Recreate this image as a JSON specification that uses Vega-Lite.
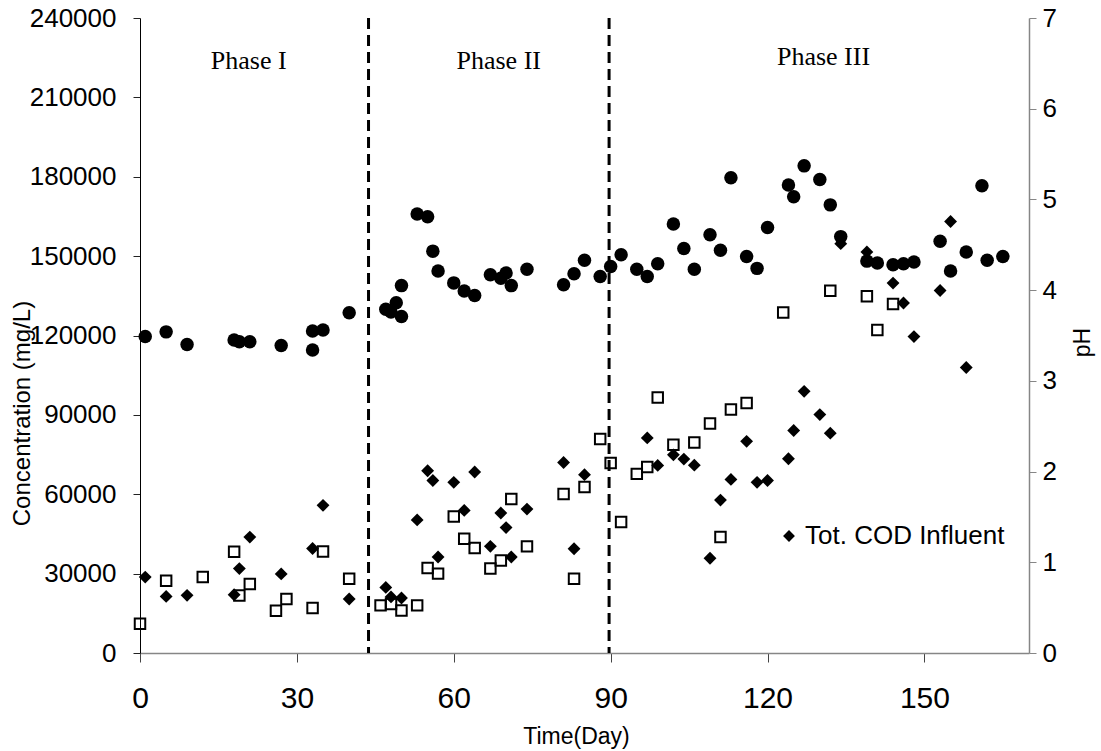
{
  "$schema": "https://vega.github.io/schema/vega-lite/v6.json",
  "width": 889,
  "height": 635,
  "autosize": {"type": "none"},
  "padding": {"left": 140, "top": 18, "right": 72, "bottom": 98},
  "background": "white",
  "config": {
    "view": {"stroke": null},
    "axis": {"grid": false, "labelFont": "Liberation Sans", "titleFont": "Liberation Sans", "labelColor": "black", "titleColor": "black", "titleFontWeight": "normal", "labelFlush": false, "labelOverlap": false}
  },
  "datasets": {
    "influent": [
      {"day": 1, "conc": 28700}, {"day": 5, "conc": 21400}, {"day": 9, "conc": 21800}, {"day": 18, "conc": 22000},
      {"day": 19, "conc": 31900}, {"day": 21, "conc": 43800}, {"day": 27, "conc": 29900}, {"day": 33, "conc": 39500},
      {"day": 35, "conc": 55800}, {"day": 40, "conc": 20400}, {"day": 47, "conc": 24800}, {"day": 48, "conc": 21200},
      {"day": 50, "conc": 20800}, {"day": 53, "conc": 50300}, {"day": 55, "conc": 68900}, {"day": 56, "conc": 65200},
      {"day": 57, "conc": 36300}, {"day": 60, "conc": 64500}, {"day": 62, "conc": 53900}, {"day": 64, "conc": 68400},
      {"day": 67, "conc": 40300}, {"day": 69, "conc": 52900}, {"day": 70, "conc": 47400}, {"day": 71, "conc": 36300},
      {"day": 74, "conc": 54400}, {"day": 81, "conc": 72000}, {"day": 83, "conc": 39400}, {"day": 85, "conc": 67400},
      {"day": 97, "conc": 81300}, {"day": 99, "conc": 70900}, {"day": 102, "conc": 74900}, {"day": 104, "conc": 73300},
      {"day": 106, "conc": 71000}, {"day": 109, "conc": 35800}, {"day": 111, "conc": 57800}, {"day": 113, "conc": 65600},
      {"day": 116, "conc": 80000}, {"day": 118, "conc": 64500}, {"day": 120, "conc": 65200}, {"day": 124, "conc": 73400},
      {"day": 125, "conc": 84100}, {"day": 127, "conc": 98900}, {"day": 130, "conc": 90100}, {"day": 132, "conc": 83100},
      {"day": 134, "conc": 154700}, {"day": 139, "conc": 151600}, {"day": 144, "conc": 139800}, {"day": 146, "conc": 132300},
      {"day": 148, "conc": 119600}, {"day": 153, "conc": 137000}, {"day": 155, "conc": 163100}, {"day": 158, "conc": 107900}
    ],
    "squares": [
      {"day": 0, "conc": 11100}, {"day": 5, "conc": 27300}, {"day": 12, "conc": 28700}, {"day": 18, "conc": 38300},
      {"day": 19, "conc": 21700}, {"day": 21, "conc": 26100}, {"day": 26, "conc": 16000}, {"day": 28, "conc": 20400},
      {"day": 33, "conc": 17000}, {"day": 35, "conc": 38400}, {"day": 40, "conc": 28100}, {"day": 46, "conc": 18000},
      {"day": 48, "conc": 18500}, {"day": 50, "conc": 16100}, {"day": 53, "conc": 18000}, {"day": 55, "conc": 32100},
      {"day": 57, "conc": 30000}, {"day": 60, "conc": 51600}, {"day": 62, "conc": 43200}, {"day": 64, "conc": 39700},
      {"day": 67, "conc": 31900}, {"day": 69, "conc": 35000}, {"day": 71, "conc": 58200}, {"day": 74, "conc": 40300},
      {"day": 81, "conc": 60100}, {"day": 83, "conc": 28100}, {"day": 85, "conc": 62700}, {"day": 88, "conc": 80900},
      {"day": 90, "conc": 71800}, {"day": 92, "conc": 49500}, {"day": 95, "conc": 67700}, {"day": 97, "conc": 70300},
      {"day": 99, "conc": 96600}, {"day": 102, "conc": 78700}, {"day": 106, "conc": 79600}, {"day": 109, "conc": 86700},
      {"day": 111, "conc": 43800}, {"day": 113, "conc": 92000}, {"day": 116, "conc": 94500}, {"day": 123, "conc": 128700},
      {"day": 132, "conc": 136900}, {"day": 139, "conc": 134800}, {"day": 141, "conc": 122100}, {"day": 144, "conc": 131900}
    ],
    "ph": [
      {"day": 1, "ph": 3.49}, {"day": 5, "ph": 3.54}, {"day": 9, "ph": 3.40}, {"day": 18, "ph": 3.45}, {"day": 19, "ph": 3.43},
      {"day": 21, "ph": 3.43}, {"day": 27, "ph": 3.39}, {"day": 33, "ph": 3.55}, {"day": 33, "ph": 3.34}, {"day": 35, "ph": 3.56},
      {"day": 40, "ph": 3.75}, {"day": 47, "ph": 3.79}, {"day": 48, "ph": 3.76}, {"day": 49, "ph": 3.86}, {"day": 50, "ph": 4.05},
      {"day": 50, "ph": 3.71}, {"day": 53, "ph": 4.84}, {"day": 55, "ph": 4.81}, {"day": 56, "ph": 4.43}, {"day": 57, "ph": 4.21},
      {"day": 60, "ph": 4.08}, {"day": 62, "ph": 3.99}, {"day": 64, "ph": 3.94}, {"day": 67, "ph": 4.17}, {"day": 69, "ph": 4.13},
      {"day": 70, "ph": 4.19}, {"day": 71, "ph": 4.05}, {"day": 74, "ph": 4.23}, {"day": 81, "ph": 4.06}, {"day": 83, "ph": 4.18},
      {"day": 85, "ph": 4.33}, {"day": 88, "ph": 4.15}, {"day": 90, "ph": 4.26}, {"day": 92, "ph": 4.39}, {"day": 95, "ph": 4.23},
      {"day": 97, "ph": 4.15}, {"day": 99, "ph": 4.29}, {"day": 102, "ph": 4.73}, {"day": 104, "ph": 4.46}, {"day": 106, "ph": 4.23},
      {"day": 109, "ph": 4.61}, {"day": 111, "ph": 4.44}, {"day": 113, "ph": 5.24}, {"day": 116, "ph": 4.37}, {"day": 118, "ph": 4.24},
      {"day": 120, "ph": 4.69}, {"day": 124, "ph": 5.16}, {"day": 125, "ph": 5.03}, {"day": 127, "ph": 5.37}, {"day": 130, "ph": 5.22},
      {"day": 132, "ph": 4.94}, {"day": 134, "ph": 4.59}, {"day": 139, "ph": 4.32}, {"day": 141, "ph": 4.30}, {"day": 144, "ph": 4.28},
      {"day": 146, "ph": 4.29}, {"day": 148, "ph": 4.31}, {"day": 153, "ph": 4.54}, {"day": 155, "ph": 4.21}, {"day": 158, "ph": 4.42},
      {"day": 161, "ph": 5.15}, {"day": 162, "ph": 4.33}, {"day": 165, "ph": 4.37}
    ],
    "phaselines": [{"day": 43.7}, {"day": 89.7}],
    "phases": [
      {"label": "Phase I", "day": 20.8, "conc": 223800},
      {"label": "Phase II", "day": 68.6, "conc": 223800},
      {"label": "Phase III", "day": 130.7, "conc": 225200}
    ]
  },
  "layer": [
    {
      "layer": [
        {
          "data": {"name": "influent"},
          "mark": {"type": "point", "shape": "diamond", "filled": true, "color": "black", "size": 165, "opacity": 1},
          "encoding": {
            "x": {
              "field": "day", "type": "quantitative",
              "scale": {"domain": [0, 170], "nice": false, "zero": false},
              "axis": {
                "values": [0, 30, 60, 90, 120, 150], "title": "Time(Day)", "titleFontSize": 23,
                "labelFontSize": 30, "labelPadding": 21, "tickSize": 9, "tickColor": "#444",
                "domainColor": "#868686", "domainWidth": 1.5, "titleX": 436, "titleY": 83,
                "titleBaseline": "middle", "titleAlign": "center"
              }
            },
            "y": {
              "field": "conc", "type": "quantitative",
              "scale": {"domain": [0, 240000], "nice": false},
              "axis": {
                "values": [0, 30000, 60000, 90000, 120000, 150000, 180000, 210000, 240000],
                "format": "d", "title": "Concentration (mg/L)", "titleFontSize": 24,
                "labelFontSize": 26, "labelPadding": 17, "tickSize": 7, "tickColor": "#222",
                "domainColor": "black", "domainWidth": 1, "titleAngle": -90, "titleX": -118, "titleY": 395,
                "titleBaseline": "middle", "titleAlign": "center"
              }
            },
            "shape": {
              "datum": "Tot. COD Influent", "type": "nominal",
              "scale": {"range": ["diamond"]},
              "legend": {
                "orient": "none", "legendX": 636, "legendY": 505, "title": null,
                "labelFontSize": 26, "labelFont": "Liberation Sans", "labelColor": "black", "labelLimit": 0,
                "symbolSize": 140, "symbolFillColor": "black", "symbolStrokeWidth": 0, "symbolType": "diamond",
                "labelOffset": 3, "padding": 0
              }
            }
          }
        },
        {
          "data": {"name": "squares"},
          "mark": {"type": "square", "filled": false, "color": "black", "strokeWidth": 2, "size": 110, "opacity": 1},
          "encoding": {
            "x": {"field": "day", "type": "quantitative"},
            "y": {"field": "conc", "type": "quantitative"}
          }
        },
        {
          "data": {"name": "phaselines"},
          "mark": {"type": "rule", "strokeDash": [11, 6], "strokeWidth": 3, "color": "black"},
          "encoding": {"x": {"field": "day", "type": "quantitative"}}
        },
        {
          "data": {"name": "phases"},
          "mark": {"type": "text", "font": "Liberation Serif", "fontSize": 26, "baseline": "middle", "align": "center", "color": "black"},
          "encoding": {
            "x": {"field": "day", "type": "quantitative"},
            "y": {"field": "conc", "type": "quantitative"},
            "text": {"field": "label"}
          }
        }
      ]
    },
    {
      "data": {"name": "ph"},
      "mark": {"type": "circle", "color": "black", "size": 182, "opacity": 1},
      "encoding": {
        "x": {"field": "day", "type": "quantitative"},
        "y": {
          "field": "ph", "type": "quantitative",
          "scale": {"domain": [0, 7], "nice": false},
          "axis": {
            "orient": "right", "values": [0, 1, 2, 3, 4, 5, 6, 7], "title": "pH", "titleFontSize": 23,
            "labelFontSize": 26, "labelPadding": 6, "tickSize": 7, "tickColor": "#868686",
            "domainColor": "#868686", "domainWidth": 1.5, "titleAngle": -90, "titleX": 53, "titleY": 324,
            "titleBaseline": "middle", "titleAlign": "center"
          }
        }
      }
    }
  ],
  "resolve": {"scale": {"y": "independent"}}
}
